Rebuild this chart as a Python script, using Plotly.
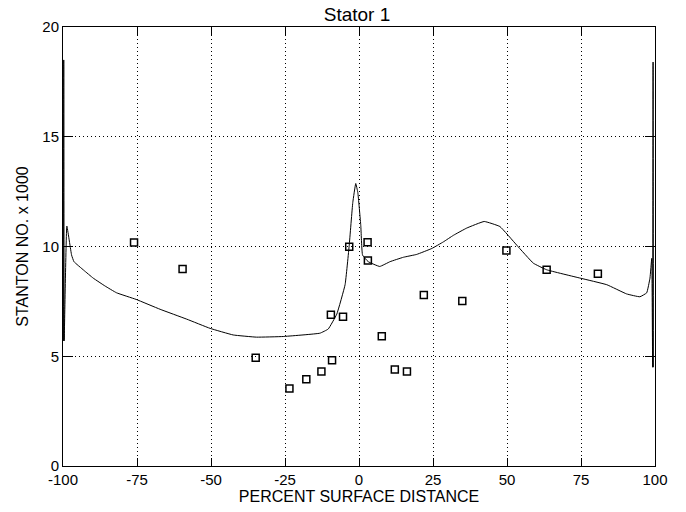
import plotly.graph_objects as go

# Measured data points (open squares)
exp_x = [-76.0, -59.6, -34.9, -23.5, -17.8, -12.7, -9.1, -9.5, -5.4, -3.3,
         2.9, 3.0, 7.7, 12.1, 16.2, 21.9, 34.9, 49.8, 63.4, 80.7]
exp_y = [10.18, 8.98, 4.93, 3.53, 3.95, 4.30, 4.82, 6.89, 6.80, 9.99,
         10.19, 9.36, 5.91, 4.40, 4.31, 7.79, 7.52, 9.82, 8.94, 8.76]

# Predicted curve
pred_x = [-99.8, -99.75, -99.6, -98.7, -97.1, -96.3, -93.0, -89.8, -85.8, -81.9,
          -75.3, -67.2, -58.2, -50.3, -42.5, -34.6, -25.6, -13.2, -10.4, -7.5,
          -4.7, -3.3, -2.1, -1.1, -0.4, 0.6, 1.2, 3.1, 7.0, 10.5,
          15.0, 19.5, 24.6, 28.5, 31.9, 36.4, 42.3, 47.6, 53.3, 58.9,
          63.4, 74.7, 83.7, 90.4, 94.9, 97.2, 98.3, 98.9, 99.2, 99.35, 99.45]
pred_y = [5.7, 18.5, 5.7, 10.93, 9.61, 9.31, 8.92, 8.56, 8.20, 7.89,
          7.59, 7.14, 6.69, 6.27, 5.97, 5.87, 5.90, 6.05, 6.24, 6.92,
          8.26, 10.06, 12.0, 12.87, 12.46, 10.96, 9.61, 9.31, 9.09, 9.31,
          9.51, 9.64, 9.91, 10.21, 10.51, 10.84, 11.14, 10.91, 10.06, 9.24,
          8.94, 8.56, 8.26, 7.84, 7.71, 7.89, 8.56, 9.46, 4.5, 18.4, 4.5]

x_ticks = [-100, -75, -50, -25, 0, 25, 50, 75, 100]
x_tick_labels = ["-100", "-75", "-50", "-25", "0", "25", "50", "75", "100"]
y_ticks = [0, 5, 10, 15, 20]
y_tick_labels = ["0", "5", "10", "15", "20"]

fig = go.Figure()
fig.add_trace(go.Scatter(x=pred_x, y=pred_y, mode="lines",
                         line=dict(color="black", width=1, shape="spline", smoothing=0.3),
                         showlegend=False))
fig.add_trace(go.Scatter(x=exp_x, y=exp_y, mode="markers",
                         marker=dict(symbol="square-open", size=7,
                                     color="black", line=dict(width=1.5, color="black")),
                         showlegend=False))

font_family = "Liberation Sans, Arial, sans-serif"
axis_common = dict(showline=True, linecolor="black", linewidth=1, mirror="ticks",
                   ticks="inside", tickcolor="black", tickwidth=1,
                   showgrid=True, gridcolor="black", gridwidth=1, griddash="1px,3px",
                   zeroline=False, tickfont=dict(family=font_family, size=15, color="black"))

fig.update_layout(
    width=686, height=512,
    margin=dict(l=63, r=31, t=27, b=41),
    paper_bgcolor="white", plot_bgcolor="white",
    title=dict(text="Stator 1", x=357 / 686, xanchor="center", y=1 - 14 / 512, yanchor="middle",
               font=dict(family=font_family, size=19, color="black")),
    xaxis=dict(range=[-100, 100], tickvals=x_ticks, ticktext=x_tick_labels, ticklen=8,
               title=dict(text="PERCENT SURFACE DISTANCE", standoff=1,
                          font=dict(family=font_family, size=16, color="black")),
               **axis_common),
    yaxis=dict(range=[0, 20], tickvals=y_ticks, ticktext=y_tick_labels, ticklen=10,
               title=dict(text="STANTON NO. x 1000", standoff=9,
                          font=dict(family=font_family, size=16, color="black")),
               **axis_common),
)

fig.write_html("out.html")
